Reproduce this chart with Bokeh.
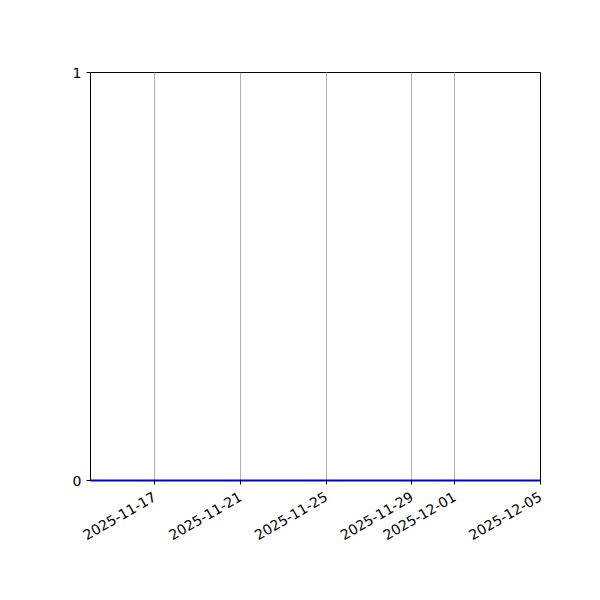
import math
from datetime import datetime
from bokeh.plotting import figure
from bokeh.models import FixedTicker, DatetimeTickFormatter, Range1d
from bokeh.embed import file_html
from bokeh.resources import INLINE

dates = ["2025-11-14", "2025-11-15", "2025-11-16", "2025-11-17", "2025-11-18", "2025-11-19",
         "2025-11-20", "2025-11-21", "2025-11-22", "2025-11-23", "2025-11-24", "2025-11-25",
         "2025-11-26", "2025-11-27", "2025-11-28", "2025-11-29", "2025-11-30", "2025-12-01",
         "2025-12-02", "2025-12-03", "2025-12-04", "2025-12-05"]
values = [0, 0, 0, 0, 0, 0, 0, 0, 0, 0, 0, 0, 0, 0, 0, 0, 0, 0, 0, 0, 0, 0]
x_ticks = ["2025-11-17", "2025-11-21", "2025-11-25", "2025-11-29", "2025-12-01", "2025-12-05"]
y_ticks = [0, 1]

def ms(s):
    return (datetime.strptime(s, "%Y-%m-%d") - datetime(1970, 1, 1)).total_seconds() * 1000

xs = [ms(d) for d in dates]

p = figure(width=584, height=584, output_backend="svg", toolbar_location=None,
           x_axis_type="datetime",
           x_range=Range1d(ms("2025-11-14"), ms("2025-12-05")),
           y_range=Range1d(0, 1),
           min_border_left=90, min_border_right=44, min_border_top=72, min_border_bottom=104)

p.line(xs, values, line_color="#0000cc", line_width=2, level="overlay")

p.xaxis.ticker = FixedTicker(ticks=[ms(t) for t in x_ticks])
p.xaxis.formatter = DatetimeTickFormatter(days="%Y-%m-%d", months="%Y-%m-%d", years="%Y-%m-%d")
p.xaxis.major_label_orientation = math.pi / 6
p.xaxis.major_label_standoff = 11
p.yaxis.ticker = FixedTicker(ticks=y_ticks)

for ax in (p.xaxis, p.yaxis):
    ax.axis_line_color = "black"
    ax.major_tick_line_color = "black"
    ax.major_tick_in = 0
    ax.major_tick_out = 4
    ax.minor_tick_line_color = None
    ax.major_label_text_font = "DejaVu Sans"
    ax.major_label_text_font_size = "14px"
    ax.major_label_text_color = "black"

p.xgrid.grid_line_color = "#b0b0b0"
p.xgrid.grid_line_width = 1
p.ygrid.grid_line_color = None
p.outline_line_color = "black"
p.outline_line_width = 1
p.background_fill_color = "white"
p.border_fill_color = "white"

open("out.html", "w").write(file_html(p, INLINE))
